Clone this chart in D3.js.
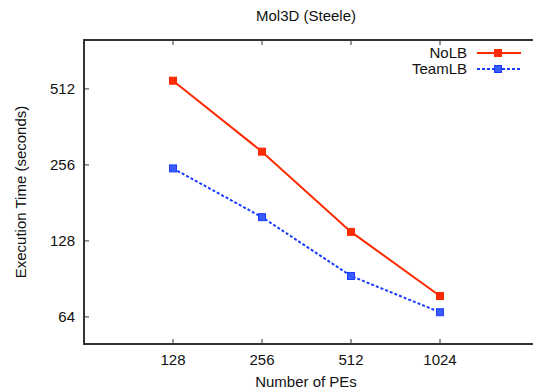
<!DOCTYPE html>
<html>
<head>
<meta charset="utf-8">
<script src="https://cdn.jsdelivr.net/npm/d3@7"></script>
<style>
  body { margin: 0; background: #fff; }
  text { font-family: "Liberation Sans", Arial, sans-serif; fill: #111; }
</style>
</head>
<body>
<div id="chart"></div>
<script>
const pes = [128, 256, 512, 1024];
const noLB = [552, 289, 139, 77.5];
const teamLB = [248, 159, 93, 66.8];
const yTicks = [64, 128, 256, 512];

const width = 533, height = 390;
const margin = { top: 40, right: 4, bottom: 46, left: 84 };

const svg = d3.select("#chart").append("svg")
  .attr("width", width).attr("height", height);

const x = d3.scaleLog().base(2).domain([64, 2048])
  .range([margin.left, margin.left + 445]);
const y = d3.scaleLog().base(2).domain([50, 800])
  .range([height - margin.bottom, margin.top]);

const axisColor = "#333";
const fs = "15px";

// frame: left, top, bottom (right edge is off the picture)
svg.append("path")
  .attr("d", `M${width + 10},${y(800)}H${x(64)}V${y(50)}H${width + 10}`)
  .attr("fill", "none").attr("stroke", axisColor).attr("stroke-width", 2);

// inward ticks
const xt = svg.append("g");
pes.forEach(p => {
  xt.append("line").attr("x1", x(p)).attr("x2", x(p))
    .attr("y1", y(50)).attr("y2", y(50) - 5)
    .attr("stroke", axisColor).attr("stroke-width", 1);
  xt.append("line").attr("x1", x(p)).attr("x2", x(p))
    .attr("y1", y(800)).attr("y2", y(800) + 5)
    .attr("stroke", axisColor).attr("stroke-width", 1);
  xt.append("text").attr("x", x(p)).attr("y", 365)
    .attr("text-anchor", "middle").style("font-size", fs).text(p);
});
yTicks.forEach(t => {
  svg.append("line").attr("x1", x(64)).attr("x2", x(64) + 5)
    .attr("y1", y(t)).attr("y2", y(t))
    .attr("stroke", axisColor).attr("stroke-width", 1);
  svg.append("text").attr("x", 75).attr("y", y(t) + 5)
    .attr("text-anchor", "end").style("font-size", fs).text(t);
});

// titles
svg.append("text").attr("x", 306).attr("y", 21)
  .attr("text-anchor", "middle").style("font-size", fs).text("Mol3D (Steele)");
svg.append("text").attr("x", 306).attr("y", 387)
  .attr("text-anchor", "middle").style("font-size", fs).text("Number of PEs");
svg.append("text")
  .attr("transform", `translate(26,${(y(50) + y(800)) / 2}) rotate(-90)`)
  .attr("text-anchor", "middle").style("font-size", fs).text("Execution Time (seconds)");

const series = [
  { name: "NoLB", values: noLB, color: "#ff2a00", dash: null, fill: "#ff2a00" },
  { name: "TeamLB", values: teamLB, color: "#1a3cff", dash: "3,2", fill: "#3a5cff" }
];

const line = d3.line().x(d => x(d[0])).y(d => y(d[1]));

series.forEach((s, i) => {
  const pts = pes.map((p, j) => [p, s.values[j]]);
  svg.append("path").datum(pts)
    .attr("d", line)
    .attr("fill", "none").attr("stroke", s.color).attr("stroke-width", 2)
    .attr("stroke-dasharray", s.dash);
  svg.selectAll(null).data(pts).enter().append("rect")
    .attr("x", d => x(d[0]) - 3.5).attr("y", d => y(d[1]) - 3.5)
    .attr("width", 7).attr("height", 7)
    .attr("fill", s.fill).attr("stroke", s.color).attr("stroke-width", 1);

  // legend
  const ly = 53 + i * 16;
  svg.append("text").attr("x", 467).attr("y", ly + 5)
    .attr("text-anchor", "end").style("font-size", fs).text(s.name);
  svg.append("line").attr("x1", 477).attr("x2", 521)
    .attr("y1", ly).attr("y2", ly)
    .attr("stroke", s.color).attr("stroke-width", 2)
    .attr("stroke-dasharray", s.dash);
  svg.append("rect").attr("x", 494.5).attr("y", ly - 3.5)
    .attr("width", 7).attr("height", 7)
    .attr("fill", s.fill).attr("stroke", s.color).attr("stroke-width", 1);
});
</script>
</body>
</html>
